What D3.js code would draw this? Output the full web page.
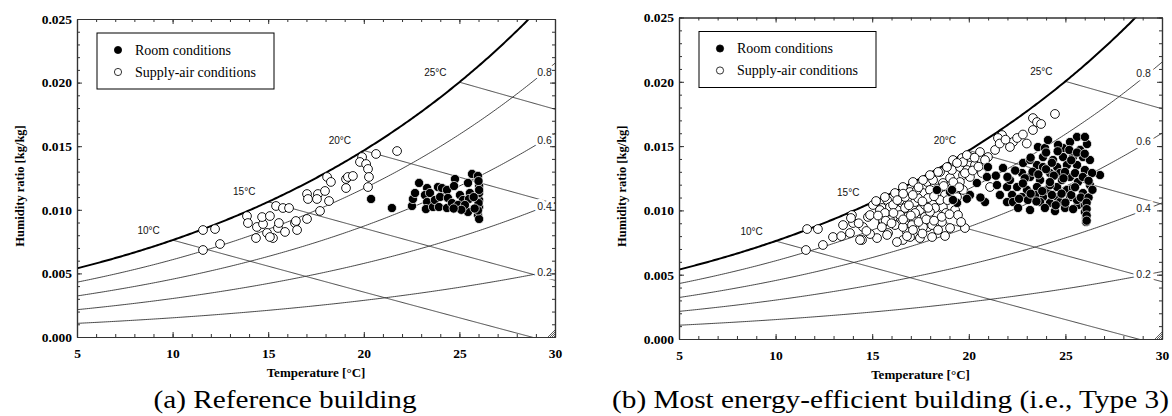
<!DOCTYPE html>
<html>
<head>
<meta charset="utf-8">
<script src="https://cdn.jsdelivr.net/npm/d3@7"></script>
<style>
  body { margin: 0; background: #fff; }
  svg { display: block; }
  svg text { font-family: 'Liberation Serif', 'Times New Roman', Times, Tinos, serif; }
  svg text.sans { font-family: 'Liberation Sans', Arial, Helvetica, Arimo, sans-serif; }
</style>
</head>
<body>
<svg id="fig" width="1172" height="416"></svg>
<script>
// ---- chart values ----
const tempTicks = [5, 10, 15, 20, 25, 30];
const ratioTicks = [0.000, 0.005, 0.010, 0.015, 0.020, 0.025];
const rhLevels = [0.2, 0.4, 0.6, 0.8];
const wetBulbTemps = [10, 15, 20, 25];

// (a) reference building: [dry-bulb °C, humidity ratio kg/kg]
const supplyA = [
  [11.59,0.00841],[12.22,0.00849],[11.59,0.00684],[12.48,0.00731],[13.89,0.00951],[13.94,0.00896],
  [14.36,0.00778],[14.41,0.00865],[14.73,0.00888],[14.68,0.00943],[15.09,0.00951],[15.41,0.01030],
  [15.77,0.01014],[16.09,0.01014],[15.25,0.00778],[15.51,0.00857],[15.88,0.00826],[15.56,0.00896],
  [14.94,0.00818],[16.40,0.00896],[16.51,0.00841],[17.03,0.00928],[17.03,0.01124],[17.08,0.01085],
  [17.60,0.01124],[17.55,0.01085],[17.97,0.01148],[18.18,0.01069],[17.71,0.00991],[18.08,0.01258],
  [18.28,0.01219],[19.07,0.01242],[19.17,0.01258],[19.43,0.01266],[19.07,0.01171],[19.91,0.01415],
  [19.80,0.01376],[20.12,0.01360],[20.22,0.01321],[20.27,0.01258],[20.22,0.01179],[20.64,0.01439],
  [21.74,0.01462],[16.45,0.00912],[15.09,0.00786]
];
const roomA = [
  [20.38,0.01085],[21.47,0.01014],[22.52,0.01030],[22.57,0.01085],[22.68,0.01132],[22.89,0.01211],
  [23.31,0.01171],[23.20,0.01116],[23.46,0.01132],[23.31,0.01061],[23.25,0.01006],[23.62,0.01022],
  [23.72,0.01077],[23.88,0.01179],[24.09,0.01171],[23.99,0.01101],[23.93,0.01022],[24.35,0.01156],
  [24.40,0.01093],[24.35,0.01014],[24.61,0.01053],[24.77,0.01242],[24.72,0.01187],[25.03,0.01116],
  [25.19,0.01077],[25.45,0.01211],[25.66,0.01282],[25.97,0.01266],[26.03,0.01187],[25.55,0.01132],
  [25.50,0.01085],[25.45,0.00983],[26.03,0.01077],[26.03,0.01022],[25.97,0.00959],[26.03,0.01132],
  [24.93,0.01038],[25.29,0.01038],[26.03,0.00928],[26.00,0.01226],[26.03,0.01156],[26.00,0.01053],
  [25.97,0.00995],[25.75,0.01100],[25.80,0.01010],[25.10,0.01000],[24.70,0.01010]
];

// (b) most energy-efficient building (Type 3)
const supplyB = [
  [11.63,0.00855],[12.19,0.00855],[11.57,0.00692],[12.45,0.00731],[13.49,0.00886],[13.95,0.00964],
  [14.01,0.00902],[14.47,0.00770],[15.25,0.00785],[14.52,0.00871],[14.78,0.00949],[15.04,0.01042],
  [15.51,0.01019],[15.56,0.00902],[15.82,0.00824],[13.90,0.00941],[14.89,0.00964],[15.20,0.01073],
  [15.40,0.01003],[15.77,0.01081],[15.92,0.01026],[15.56,0.00925],[16.08,0.00949],[16.34,0.01003],
  [16.54,0.01058],[16.96,0.01135],[17.22,0.01065],[16.80,0.00949],[17.06,0.00886],[17.47,0.01003],
  [17.63,0.01135],[17.84,0.01221],[18.15,0.01236],[18.51,0.01299],[17.99,0.01159],[18.35,0.01104],
  [17.73,0.00949],[17.89,0.00871],[18.10,0.00793],[17.11,0.00809],[16.80,0.00832],[16.18,0.00886],
  [14.37,0.00770],[16.59,0.00770],[18.66,0.01213],[19.03,0.01252],[19.13,0.01314],[19.18,0.01392],
  [19.65,0.01407],[19.54,0.01337],[19.70,0.01275],[19.29,0.01003],[19.03,0.00863],[19.80,0.00863],
  [18.66,0.01026],[19.39,0.01104],[19.70,0.01159],[12.97,0.00793],[13.85,0.00824],[14.89,0.00816],
  [15.77,0.00809],[16.28,0.00754],[16.96,0.00793],[17.63,0.00871],[18.35,0.00964],[18.61,0.00910],
  [18.10,0.00886],[16.59,0.00871],[15.92,0.00925],[15.66,0.00980],[24.46,0.01750],[23.32,0.01718],
  [23.53,0.01687],[23.74,0.01672],[23.32,0.01625],[21.72,0.01586],[21.51,0.01563],[22.29,0.01532],
  [22.13,0.01493],[22.50,0.01563],[20.58,0.01454],[20.99,0.01415],[20.06,0.01415],[19.70,0.01376],
  [19.39,0.01369],[18.87,0.01337],[18.41,0.01299],[17.99,0.01275],[17.63,0.01236],[17.11,0.01221],
  [16.96,0.01143],[16.59,0.01182],[16.18,0.01135],[15.66,0.01104],[19.54,0.01221],[20.06,0.01260],
  [20.68,0.01291],[19.91,0.01314],[21.10,0.01182],[20.32,0.01353],[20.84,0.01392],[21.36,0.01470],
  [17.11,0.00848],[16.44,0.01081],[16.70,0.01019],[17.37,0.01096],[17.73,0.01042],[18.25,0.01019],
  [18.77,0.01120],[19.13,0.01174],[18.51,0.01081],[17.89,0.01096],[17.32,0.01159],[16.70,0.01104],
  [16.08,0.01042],[16.44,0.00964],[17.22,0.00980],[17.99,0.00988],[18.82,0.00980],[19.44,0.00964],
  [18.41,0.00848],[17.47,0.00785],[18.77,0.00801],
  [15.30,0.00960],[15.70,0.00920],[16.10,0.00980],[16.30,0.01080],[16.60,0.01130],[16.90,0.01040],
  [17.10,0.01120],[17.40,0.01180],[17.60,0.01070],[17.90,0.01020],[18.20,0.01110],[18.40,0.01170],
  [18.70,0.01190],[18.90,0.01080],[19.20,0.01220],[19.50,0.01180],[19.80,0.01290],[20.20,0.01310],
  [20.50,0.01340],[16.00,0.00900],[16.60,0.00930],[17.00,0.00960],[17.40,0.00910],[17.80,0.00930],
  [18.20,0.00920],[18.60,0.00950],[19.00,0.00970],[17.60,0.00820],[16.80,0.00800],[15.50,0.00870],
  [14.30,0.00900],[14.70,0.00840],[13.40,0.00800],[19.90,0.01430],[20.30,0.01410],[21.60,0.01520],
  [21.90,0.01550],[22.80,0.01590],[23.00,0.01520],[19.60,0.00910]
];
const roomB = [
  [25.60,0.01571],[25.24,0.01532],[26.12,0.01516],[25.76,0.01470],[23.58,0.01493],[23.94,0.01485],
  [24.88,0.01485],[23.84,0.01415],[24.36,0.01392],[24.88,0.01415],[25.39,0.01415],[25.91,0.01415],
  [26.27,0.01392],[22.81,0.01369],[23.53,0.01353],[23.84,0.01337],[24.57,0.01337],[25.08,0.01353],
  [25.60,0.01353],[26.01,0.01314],[26.79,0.01275],[26.38,0.01291],[21.77,0.01330],[20.99,0.01337],
  [20.94,0.01260],[20.42,0.01213],[21.98,0.01182],[22.75,0.01291],[23.17,0.01260],[23.69,0.01236],
  [24.20,0.01291],[24.72,0.01291],[25.24,0.01260],[25.65,0.01221],[26.27,0.01197],[22.50,0.01182],
  [23.01,0.01159],[23.53,0.01182],[24.05,0.01159],[24.57,0.01182],[25.08,0.01159],[25.39,0.01174],
  [25.91,0.01135],[18.35,0.01159],[19.03,0.01143],[22.24,0.01120],[22.75,0.01104],[23.84,0.01104],
  [24.57,0.01104],[25.24,0.01104],[19.39,0.01058],[20.84,0.01065],[21.98,0.01065],[22.29,0.01065],
  [23.69,0.01065],[24.20,0.01058],[24.72,0.01065],[25.65,0.01042],[19.13,0.01159],[19.18,0.01081],
  [22.55,0.01019],[23.17,0.01003],[23.94,0.01019],[24.46,0.00995],[24.98,0.01019],[26.01,0.01042],
  [26.01,0.00988],[26.07,0.00941],[26.07,0.00910],[23.06,0.01081],[23.43,0.01120],[24.20,0.01197],
  [24.82,0.01236],[23.17,0.01392],[24.10,0.01547],[24.62,0.01509],[26.01,0.01571],[24.98,0.01299],
  [22.13,0.01236],[21.46,0.01197],[21.61,0.01120],[20.06,0.01120],[25.60,0.01081],
  [22.90,0.01250],[23.30,0.01300],[23.60,0.01280],[24.00,0.01320],[24.40,0.01270],[24.90,0.01250],
  [25.50,0.01290],[25.90,0.01260],[26.20,0.01230],[23.20,0.01130],[23.80,0.01150],[24.30,0.01120],
  [24.80,0.01130],[25.30,0.01120],[25.80,0.01100],[26.20,0.01100],[22.60,0.01090],[23.50,0.01070],
  [24.50,0.01040],[25.00,0.01060],[25.40,0.01010],[26.10,0.01060],[26.10,0.01010],[26.10,0.00960],
  [26.10,0.00920],[24.00,0.01450],[24.60,0.01460],[25.20,0.01470],[25.60,0.01450],[26.00,0.01440],
  [25.30,0.01390],[24.30,0.01370],[23.20,0.01410],[22.40,0.01310],[22.00,0.01260],[21.40,0.01270],
  [22.80,0.01210],[24.20,0.01220],[25.50,0.01180],[26.40,0.01160],[20.60,0.01100],[19.90,0.01090]
];

const legendLabels = ['Room conditions', 'Supply-air conditions'];

// ---- psychrometric helpers ----
const P_ATM = 101.325;
const pSat = t => 0.61094 * Math.exp(17.625 * t / (t + 243.04)); // kPa
const ratioAt = (t, rh) => { const p = rh * pSat(t); return 0.622 * p / (P_ATM - p); };
const wetBulbRatio = (t, twb) =>
  ((2501 - 2.326 * twb) * ratioAt(twb, 1) - 1.006 * (t - twb)) / (2501 + 1.86 * t - 4.186 * twb);

const panels = [
  { id: 'a', left: 77, right: 555, top: 19, bottom: 337, rhLabelT: 29.45, rhLabelYT: 29.45,
    supply: supplyA, room: roomA, caption: '(a) Reference building', capX: 285, capW: 263 },
  { id: 'b', left: 679, right: 1162, top: 17.5, bottom: 339, rhLabelT: 29.05, rhLabelYT: 29.3,
    supply: supplyB, room: roomB, caption: '(b) Most energy-efficient building (i.e., Type 3)', capX: 890.5, capW: 557 }
];

const svg = d3.select('#fig');

panels.forEach(p => {
  const x = d3.scaleLinear().domain([5, 30]).range([p.left, p.right]);
  const y = d3.scaleLinear().domain([0, 0.025]).range([p.bottom, p.top]);
  const g = svg.append('g');

  g.append('clipPath').attr('id', 'clip-' + p.id)
    .append('rect')
    .attr('x', p.left).attr('y', p.top)
    .attr('width', p.right - p.left).attr('height', p.bottom - p.top);
  const plot = g.append('g').attr('clip-path', `url(#clip-${p.id})`);

  const line = d3.line().x(d => x(d[0])).y(d => y(d[1]));
  const temps = d3.range(5, 30.0001, 0.1);

  // relative humidity curves
  rhLevels.forEach(rh => {
    plot.append('path')
      .datum(temps.map(t => [t, ratioAt(t, rh)]))
      .attr('d', line).attr('fill', 'none')
      .attr('stroke', '#333').attr('stroke-width', 0.9);
  });

  // wet-bulb lines
  wetBulbTemps.forEach(twb => {
    const pts = d3.range(twb, 30.0001, 0.05)
      .map(t => [t, wetBulbRatio(t, twb)])
      .filter(d => d[1] >= -0.0005);
    plot.append('path')
      .datum(pts).attr('d', line).attr('fill', 'none')
      .attr('stroke', '#333').attr('stroke-width', 0.9);
  });

  // saturation curve
  plot.append('path')
    .datum(temps.map(t => [t, ratioAt(t, 1)]))
    .attr('d', line).attr('fill', 'none')
    .attr('stroke', '#000').attr('stroke-width', 2);

  // corner hatch
  d3.range(4).forEach(i => {
    plot.append('line')
      .attr('x1', x(30) - 7 + 2 * i).attr('y1', y(0))
      .attr('x2', x(30)).attr('y2', y(0) - 7 + 2 * i)
      .attr('stroke', '#333').attr('stroke-width', 0.8);
  });

  // points
  plot.selectAll('circle.supply').data(p.supply).join('circle')
    .attr('class', 'supply')
    .attr('cx', d => x(d[0])).attr('cy', d => y(d[1])).attr('r', 4.4)
    .attr('fill', '#fff').attr('stroke', '#000').attr('stroke-width', 0.9);
  plot.selectAll('circle.room').data(p.room).join('circle')
    .attr('class', 'room')
    .attr('cx', d => x(d[0])).attr('cy', d => y(d[1])).attr('r', 4.6)
    .attr('fill', '#000').attr('stroke', '#fff').attr('stroke-width', 0.7);

  // RH labels (white halo breaks the curve)
  rhLevels.forEach(rh => {
    g.append('text').attr('class', 'sans')
      .attr('x', x(p.rhLabelT)).attr('y', y(ratioAt(p.rhLabelYT, rh)))
      .attr('dy', '0.35em').attr('text-anchor', 'middle')
      .attr('font-size', 10.5).attr('fill', '#222')
      .attr('stroke', '#fff').attr('stroke-width', 6.5).attr('paint-order', 'stroke')
      .text(rh.toFixed(1));
  });

  // wet-bulb labels
  wetBulbTemps.forEach(twb => {
    g.append('text').attr('class', 'sans')
      .attr('x', x(twb) - 24).attr('y', y(ratioAt(twb, 1)) - 10)
      .attr('dy', '0.35em').attr('text-anchor', 'middle')
      .attr('font-size', 10).attr('fill', '#111')
      .text(twb + '°C');
  });

  // axes
  const styleAxis = sel => {
    sel.attr('font-family', null);
    sel.select('.domain').attr('stroke', '#333').attr('stroke-width', 1.2);
    sel.selectAll('.tick line').attr('stroke', '#333');
    sel.selectAll('text').attr('font-weight', 'bold')
      .attr('font-size', 13.5).attr('fill', '#000');
  };
  const minorT = d3.range(5, 31, 1);
  const minorW = d3.range(0, 0.0251, 0.001);

  [['bottom', d3.axisBottom, y(0)], ['top', d3.axisTop, y(0.025)]].forEach(([side, ax, pos]) => {
    g.append('g').attr('transform', `translate(0,${pos})`)
      .call(ax(x).tickValues(minorT).tickSize(-3).tickSizeOuter(0).tickFormat(''))
      .call(styleAxis);
    g.append('g').attr('transform', `translate(0,${pos})`)
      .call(ax(x).tickValues(tempTicks).tickSize(-5).tickSizeOuter(0).tickPadding(11)
        .tickFormat(side === 'bottom' ? d3.format('d') : ''))
      .call(styleAxis);
  });
  [['left', d3.axisLeft, x(5)], ['right', d3.axisRight, x(30)]].forEach(([side, ax, pos]) => {
    g.append('g').attr('transform', `translate(${pos},0)`)
      .call(ax(y).tickValues(minorW).tickSize(-3).tickSizeOuter(0).tickFormat(''))
      .call(styleAxis);
    g.append('g').attr('transform', `translate(${pos},0)`)
      .call(ax(y).tickValues(ratioTicks).tickSize(-5).tickSizeOuter(0).tickPadding(5)
        .tickFormat(side === 'left' ? d3.format('.3f') : ''))
      .call(styleAxis);
  });

  // axis titles
  g.append('text')
    .attr('x', (p.left + p.right) / 2).attr('y', p.bottom + 40)
    .attr('text-anchor', 'middle')
    .attr('font-weight', 'bold').attr('font-size', 13)
    .text('Temperature [°C]');
  g.append('text')
    .attr('transform', `translate(${p.left - 57.5},${(p.top + p.bottom) / 2 + 8}) rotate(-90)`)
    .attr('dy', '0.35em').attr('text-anchor', 'middle')
    .attr('font-weight', 'bold').attr('font-size', 12.5)
    .text('Humidity ratio [kg/kg]');

  // legend
  const lg = g.append('g').attr('transform', `translate(${p.left + 20},${p.top + 14})`);
  lg.append('rect').attr('width', 177).attr('height', 56)
    .attr('fill', '#fff').attr('stroke', '#000').attr('stroke-width', 1);
  legendLabels.forEach((lab, i) => {
    lg.append('circle').attr('cx', 21).attr('cy', 17 + i * 22).attr('r', 3.6)
      .attr('fill', i === 0 ? '#000' : '#fff').attr('stroke', '#000').attr('stroke-width', 0.8);
    lg.append('text').attr('x', 38).attr('y', 17 + i * 22).attr('dy', '0.35em')
      .attr('font-size', 14).text(lab);
  });

  // caption
  svg.append('text')
    .attr('x', p.capX).attr('y', 408).attr('text-anchor', 'middle')
    .attr('font-size', 25)
    .attr('textLength', p.capW).attr('lengthAdjust', 'spacingAndGlyphs')
    .text(p.caption);
});
</script>
</body>
</html>
